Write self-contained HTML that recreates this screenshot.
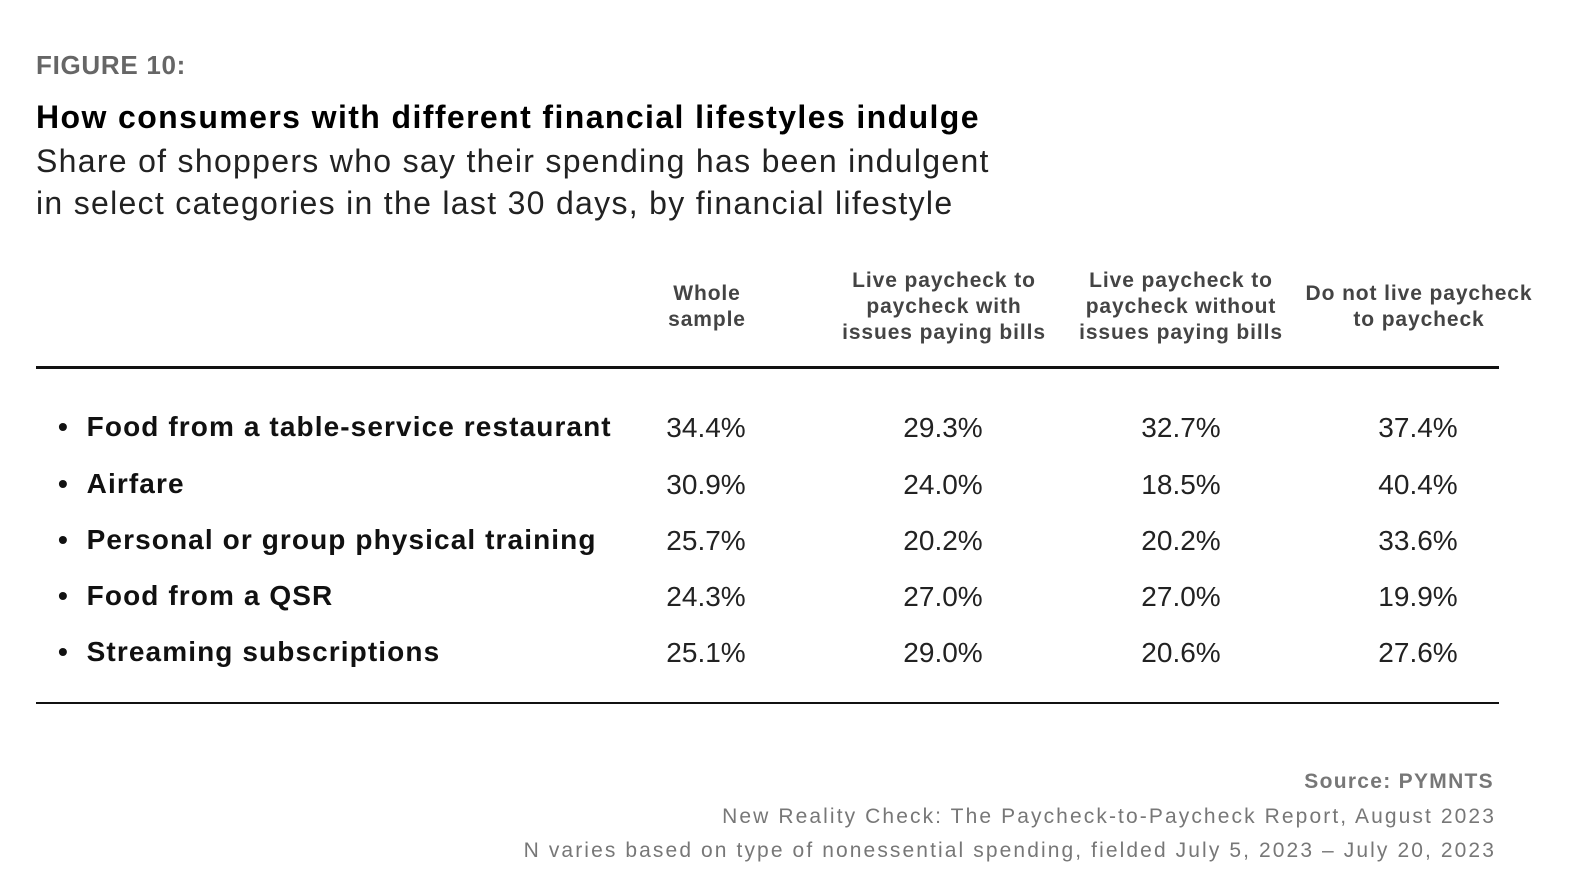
<!DOCTYPE html>
<html><head><meta charset="utf-8"><style>
body{margin:0;width:1572px;height:886px;background:#fff;position:relative;overflow:hidden;font-family:"Liberation Sans",sans-serif;}
.a{position:absolute;white-space:nowrap;}
.h{font-weight:bold;color:#444;font-size:21px;line-height:26px;text-align:center;width:260px;letter-spacing:0.9px;}
.lab{font-size:28px;font-weight:bold;color:#111;left:58px;line-height:34px;letter-spacing:1.1px;}
.v{font-size:28px;color:#222;width:200px;text-align:center;line-height:34px;}
.s{right:76px;font-size:21px;color:#777;line-height:26px;text-align:right;letter-spacing:2.1px;}
</style></head><body>
<div class="a" style="left:36px;top:50px;font-size:26px;font-weight:bold;color:#666;letter-spacing:0.7px">FIGURE 10:</div>
<div class="a" style="left:36px;top:99px;font-size:32px;font-weight:bold;color:#000;letter-spacing:1.4px">How consumers with different financial lifestyles indulge</div>
<div class="a" style="left:36px;top:140px;font-size:32px;color:#222;line-height:42px;letter-spacing:1.3px">Share of shoppers who say their spending has been indulgent<br>in select categories in the last 30 days, by financial lifestyle</div>
<div class="a h" style="left:577px;top:281px;">Whole<br>sample</div>
<div class="a h" style="left:814px;top:268px;">Live paycheck to<br>paycheck with<br>issues paying bills</div>
<div class="a h" style="left:1051px;top:268px;">Live paycheck to<br>paycheck without<br>issues paying bills</div>
<div class="a h" style="left:1289px;top:281px;">Do not live paycheck<br>to paycheck</div>
<div class="a" style="left:36px;top:366px;width:1463px;height:3px;background:#111"></div>
<div class="a" style="left:36px;top:702px;width:1463px;height:2px;background:#111"></div>
<div class="a lab" style="top:410px">•&nbsp;&nbsp;Food from a table-service restaurant</div>
<div class="a lab" style="top:467px">•&nbsp;&nbsp;Airfare</div>
<div class="a lab" style="top:523px">•&nbsp;&nbsp;Personal or group physical training</div>
<div class="a lab" style="top:579px">•&nbsp;&nbsp;Food from a QSR</div>
<div class="a lab" style="top:635px">•&nbsp;&nbsp;Streaming subscriptions</div>
<div class="a v" style="left:606px;top:411px">34.4%</div><div class="a v" style="left:843px;top:411px">29.3%</div><div class="a v" style="left:1081px;top:411px">32.7%</div><div class="a v" style="left:1318px;top:411px">37.4%</div>
<div class="a v" style="left:606px;top:468px">30.9%</div><div class="a v" style="left:843px;top:468px">24.0%</div><div class="a v" style="left:1081px;top:468px">18.5%</div><div class="a v" style="left:1318px;top:468px">40.4%</div>
<div class="a v" style="left:606px;top:524px">25.7%</div><div class="a v" style="left:843px;top:524px">20.2%</div><div class="a v" style="left:1081px;top:524px">20.2%</div><div class="a v" style="left:1318px;top:524px">33.6%</div>
<div class="a v" style="left:606px;top:580px">24.3%</div><div class="a v" style="left:843px;top:580px">27.0%</div><div class="a v" style="left:1081px;top:580px">27.0%</div><div class="a v" style="left:1318px;top:580px">19.9%</div>
<div class="a v" style="left:606px;top:636px">25.1%</div><div class="a v" style="left:843px;top:636px">29.0%</div><div class="a v" style="left:1081px;top:636px">20.6%</div><div class="a v" style="left:1318px;top:636px">27.6%</div>
<div class="a s" style="top:769px;font-weight:bold;color:#777;letter-spacing:1.3px;right:78px">Source: PYMNTS</div>
<div class="a s" style="top:804px">New Reality Check: The Paycheck-to-Paycheck Report, August 2023</div>
<div class="a s" style="top:838px">N varies based on type of nonessential spending, fielded July 5, 2023 – July 20, 2023</div>
</body></html>
